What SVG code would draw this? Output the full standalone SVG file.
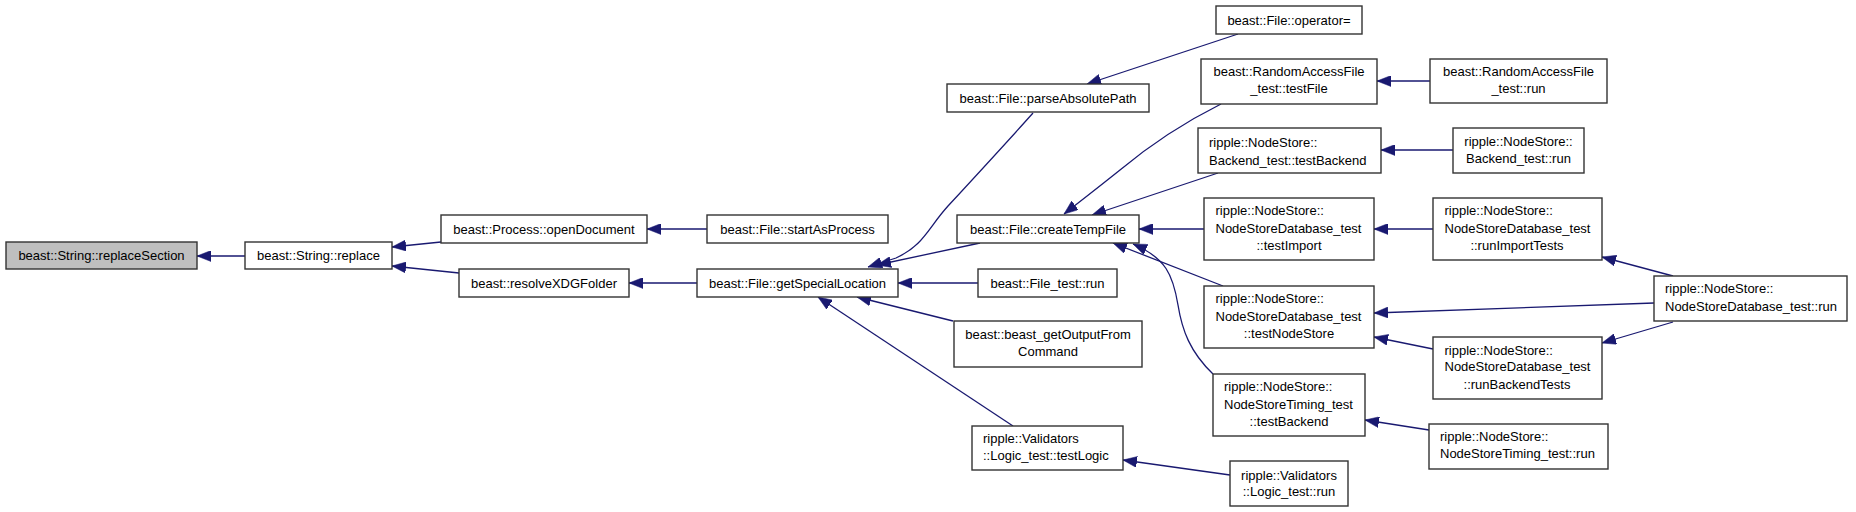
<svg xmlns="http://www.w3.org/2000/svg" width="1856" height="512" viewBox="0 0 1856 512">
<style>
  .box { fill: #ffffff; stroke: #333333; stroke-width: 1.4; }
  .root { fill: #bfbfbf; }
  text { font-family: "Liberation Sans", Arial, Helvetica, sans-serif; font-size: 13px; fill: #000000; }
  .c { text-anchor: middle; }
  .l { text-anchor: start; }
  .edge { fill: none; stroke: #191970; stroke-width: 1.3; marker-end: url(#arr); }
</style>
<defs>
  <marker id="arr" markerUnits="userSpaceOnUse" markerWidth="14" markerHeight="11" viewBox="0 0 14 11" refX="14" refY="5.5" orient="auto">
    <path d="M0,0 L14,5.5 L0,11 z" fill="#191970" stroke="#191970" stroke-width="0.5"/>
  </marker>
</defs>
<rect width="1856" height="512" fill="#ffffff"/>

<g id="connectors">
  <path class="edge" d="M245,256 L197,256"/>
  <path class="edge" d="M441,242 L392,247"/>
  <path class="edge" d="M459,273 L392,266"/>
  <path class="edge" d="M707,229 L647,229"/>
  <path class="edge" d="M697,283 L629,283"/>
  <path class="edge" d="M1033,113 C1008,141 972,180 948,206 C928,228 924,245 896,258 L868,267"/>
  <path class="edge" d="M980,243 L877,265"/>
  <path class="edge" d="M978,283 L898,283"/>
  <path class="edge" d="M953,321 L857,297"/>
  <path class="edge" d="M1013,426 L818,297"/>
  <path class="edge" d="M1238,34 L1087,84"/>
  <path class="edge" d="M1221,104 C1185,122 1150,145 1120,170 C1100,186 1082,200 1064,214"/>
  <path class="edge" d="M1218,173 L1092,215"/>
  <path class="edge" d="M1204,229 L1139,229"/>
  <path class="edge" d="M1223,286 L1113,243"/>
  <path class="edge" d="M1213,374 C1190,352 1182,330 1178,305 C1173,275 1166,258 1133,244"/>
  <path class="edge" d="M1430,81 L1377,81"/>
  <path class="edge" d="M1453,150 L1381,150"/>
  <path class="edge" d="M1433,229 L1374,229"/>
  <path class="edge" d="M1654,303 L1374,313"/>
  <path class="edge" d="M1433,349 L1374,337"/>
  <path class="edge" d="M1673,276 L1602,257"/>
  <path class="edge" d="M1673,322 L1602,343"/>
  <path class="edge" d="M1429,430 L1365,420"/>
  <path class="edge" d="M1230,475 L1123,460"/>
</g>

<g id="n_replaceSection"><rect class="box root" x="6" y="242" width="191" height="27"/><text class="c" x="101.5" y="260">beast::String::replaceSection</text></g>
<g id="n_replace"><rect class="box" x="245" y="242" width="147" height="27"/><text class="c" x="318.5" y="260">beast::String::replace</text></g>
<g id="n_openDocument"><rect class="box" x="441" y="215" width="206" height="28"/><text class="c" x="544" y="233.5">beast::Process::openDocument</text></g>
<g id="n_startAsProcess"><rect class="box" x="707" y="215" width="181" height="28"/><text class="c" x="797.5" y="233.5">beast::File::startAsProcess</text></g>
<g id="n_resolveXDGFolder"><rect class="box" x="459" y="269" width="170" height="28"/><text class="c" x="544" y="287.5">beast::resolveXDGFolder</text></g>
<g id="n_getSpecialLocation"><rect class="box" x="697" y="269" width="201" height="28"/><text class="c" x="797.5" y="287.5">beast::File::getSpecialLocation</text></g>
<g id="n_parseAbsolutePath"><rect class="box" x="947" y="84" width="202" height="28"/><text class="c" x="1048" y="102.5">beast::File::parseAbsolutePath</text></g>
<g id="n_createTempFile"><rect class="box" x="957" y="215" width="182" height="28"/><text class="c" x="1048" y="233.5">beast::File::createTempFile</text></g>
<g id="n_File_test_run"><rect class="box" x="978" y="269" width="139" height="28"/><text class="c" x="1047.5" y="287.5">beast::File_test::run</text></g>
<g id="n_getOutputFromCommand"><rect class="box" x="954" y="321" width="188" height="46"/><text class="c" x="1048" y="339">beast::beast_getOutputFrom</text><text class="c" x="1048" y="356">Command</text></g>
<g id="n_testLogic"><rect class="box" x="972" y="426" width="151" height="44"/><text class="l" x="983" y="443">ripple::Validators</text><text class="l" x="983" y="460">::Logic_test::testLogic</text></g>
<g id="n_operator"><rect class="box" x="1216" y="6" width="146" height="28"/><text class="c" x="1289" y="25">beast::File::operator=</text></g>
<g id="n_testFile"><rect class="box" x="1201" y="59" width="176" height="45"/><text class="c" x="1289" y="76">beast::RandomAccessFile</text><text class="c" x="1289" y="93">_test::testFile</text></g>
<g id="n_Backend_testBackend"><rect class="box" x="1198" y="128" width="183" height="45"/><text class="l" x="1209" y="147">ripple::NodeStore::</text><text class="l" x="1209" y="165">Backend_test::testBackend</text></g>
<g id="n_testImport"><rect class="box" x="1204" y="198" width="170" height="62"/><text class="l" x="1215.5" y="215">ripple::NodeStore::</text><text class="l" x="1215.5" y="232.5">NodeStoreDatabase_test</text><text class="c" x="1289" y="250">::testImport</text></g>
<g id="n_testNodeStore"><rect class="box" x="1204" y="286" width="170" height="62"/><text class="l" x="1215.5" y="303">ripple::NodeStore::</text><text class="l" x="1215.5" y="320.5">NodeStoreDatabase_test</text><text class="c" x="1289" y="338">::testNodeStore</text></g>
<g id="n_Timing_testBackend"><rect class="box" x="1213" y="374" width="152" height="62"/><text class="l" x="1224" y="391">ripple::NodeStore::</text><text class="l" x="1224" y="408.5">NodeStoreTiming_test</text><text class="c" x="1289" y="426">::testBackend</text></g>
<g id="n_Logic_test_run"><rect class="box" x="1230" y="461" width="118" height="45"/><text class="c" x="1289" y="479.5">ripple::Validators</text><text class="c" x="1289" y="496">::Logic_test::run</text></g>
<g id="n_RandomAccessFile_run"><rect class="box" x="1430" y="59" width="177" height="44"/><text class="c" x="1518.5" y="76">beast::RandomAccessFile</text><text class="c" x="1518.5" y="93">_test::run</text></g>
<g id="n_Backend_test_run"><rect class="box" x="1453" y="128" width="131" height="45"/><text class="c" x="1518.5" y="146">ripple::NodeStore::</text><text class="c" x="1518.5" y="163">Backend_test::run</text></g>
<g id="n_runImportTests"><rect class="box" x="1433" y="198" width="169" height="62"/><text class="l" x="1444.5" y="215">ripple::NodeStore::</text><text class="l" x="1444.5" y="232.5">NodeStoreDatabase_test</text><text class="c" x="1517" y="250">::runImportTests</text></g>
<g id="n_runBackendTests"><rect class="box" x="1433" y="337" width="169" height="62"/><text class="l" x="1444.5" y="354.5">ripple::NodeStore::</text><text class="l" x="1444.5" y="371">NodeStoreDatabase_test</text><text class="c" x="1517" y="388.5">::runBackendTests</text></g>
<g id="n_Timing_run"><rect class="box" x="1429" y="424" width="179" height="45"/><text class="l" x="1440" y="441">ripple::NodeStore::</text><text class="l" x="1440" y="458">NodeStoreTiming_test::run</text></g>
<g id="n_Database_run"><rect class="box" x="1654" y="276" width="193" height="45"/><text class="l" x="1665" y="293">ripple::NodeStore::</text><text class="l" x="1665" y="310.5">NodeStoreDatabase_test::run</text></g>
</svg>
